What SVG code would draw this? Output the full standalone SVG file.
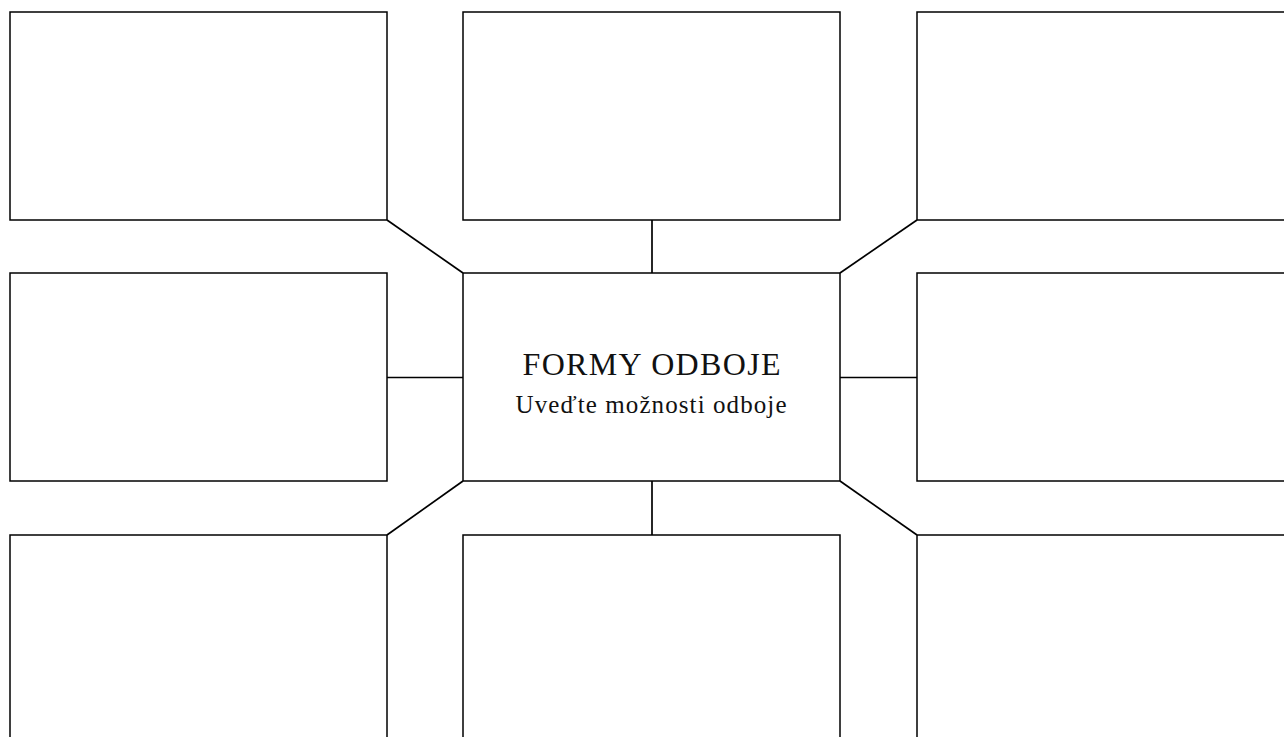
<svg xmlns="http://www.w3.org/2000/svg" width="1284" height="737" viewBox="0 0 1284 737">
<style>
.box{fill:#fff;stroke:#000;stroke-width:1.5}
.con{stroke:#000;stroke-width:1.7;fill:none}
.t{font-family:"Liberation Serif","DejaVu Serif",serif;fill:#111;text-anchor:middle}
</style>
<rect x="0" y="0" width="1284" height="737" fill="#fff"/>
<g id="connectors">
<line class="con" x1="387" y1="220" x2="463" y2="273"/>
<line class="con" x1="652" y1="220" x2="652" y2="273"/>
<line class="con" x1="917" y1="220" x2="840" y2="273"/>
<line class="con" x1="387" y1="377.5" x2="463" y2="377.5"/>
<line class="con" x1="840" y1="377.5" x2="917" y2="377.5"/>
<line class="con" x1="463" y1="481" x2="387" y2="535"/>
<line class="con" x1="652" y1="481" x2="652" y2="535"/>
<line class="con" x1="840" y1="481" x2="917" y2="535"/>
</g>
<g id="box-tl"><rect class="box" x="10" y="12" width="377" height="208"/></g>
<g id="box-tc"><rect class="box" x="463" y="12" width="377" height="208"/></g>
<g id="box-tr"><rect class="box" x="917" y="12" width="377" height="208"/></g>
<g id="box-ml"><rect class="box" x="10" y="273" width="377" height="208"/></g>
<g id="center">
<rect class="box" x="463" y="273" width="377" height="208"/>
<text class="t" x="651.5" y="375" font-size="32" textLength="258" lengthAdjust="spacing">FORMY ODBOJE</text>
<text class="t" x="651" y="413" font-size="25" textLength="271" lengthAdjust="spacing">Uveďte možnosti odboje</text>
</g>
<g id="box-mr"><rect class="box" x="917" y="273" width="377" height="208"/></g>
<g id="box-bl"><rect class="box" x="10" y="535" width="377" height="208"/></g>
<g id="box-bc"><rect class="box" x="463" y="535" width="377" height="208"/></g>
<g id="box-br"><rect class="box" x="917" y="535" width="377" height="208"/></g>
</svg>
